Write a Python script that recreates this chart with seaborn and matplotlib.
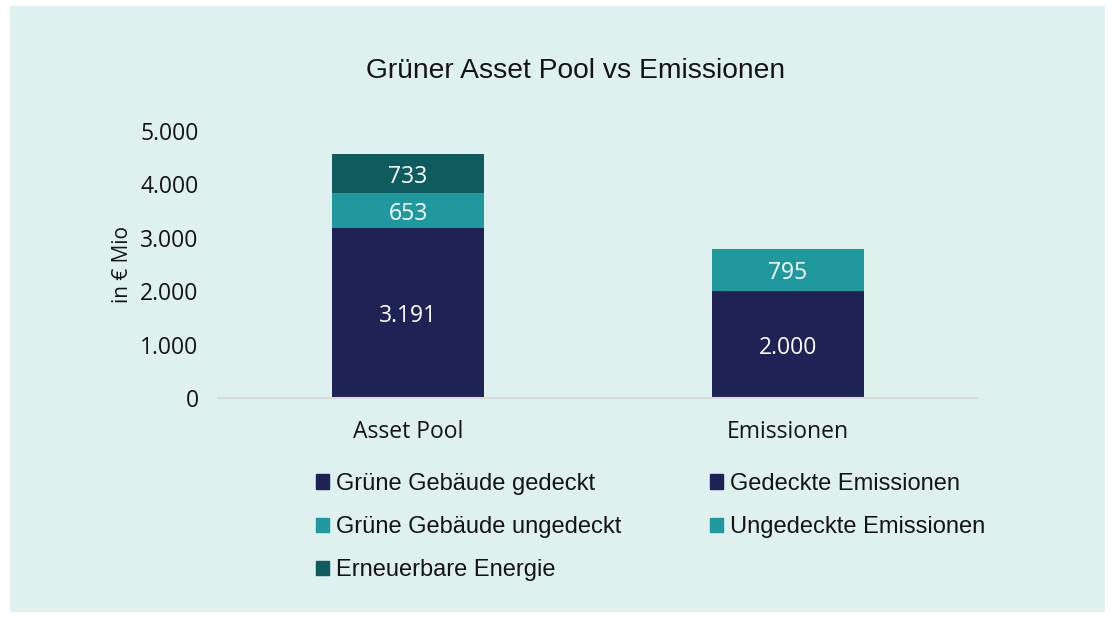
import matplotlib
matplotlib.use("Agg")
import matplotlib.pyplot as plt
import matplotlib.patches as mpatches
import seaborn as sns
import numpy as np

# data
categories = ["Asset Pool", "Emissionen"]
series_names = [
    "Grüne Gebäude gedeckt",
    "Grüne Gebäude ungedeckt",
    "Erneuerbare Energie",
    "Gedeckte Emissionen",
    "Ungedeckte Emissionen",
]
gruene_gedeckt = [3191, 0]
gruene_ungedeckt = [653, 0]
erneuerbare = [733, 0]
gedeckte_emissionen = [0, 2000]
ungedeckte_emissionen = [0, 795]
y_ticks = [0, 1000, 2000, 3000, 4000, 5000]

NAVY = "#1e2254"
TEAL = "#1f999e"
DARK_TEAL = "#0e5c5e"
BG = "#dff1ef"
INK = "#141414"
colors = [NAVY, TEAL, DARK_TEAL, NAVY, TEAL]
series_values = [gruene_gedeckt, gruene_ungedeckt, erneuerbare,
                 gedeckte_emissionen, ungedeckte_emissionen]
NUM_FONT = ["Open Sans", "DejaVu Sans"]


def de_fmt(v):
    return f"{int(v):,}".replace(",", ".")


sns.set_theme(style="white")
plt.rcParams["font.family"] = ["Liberation Sans", "DejaVu Sans"]
plt.rcParams["text.color"] = INK
plt.rcParams["axes.labelcolor"] = INK
plt.rcParams["xtick.color"] = INK
plt.rcParams["ytick.color"] = INK

fig = plt.figure(figsize=(11.15, 6.18), dpi=100)
fig.patch.set_facecolor("white")
fig.patches.append(mpatches.Rectangle(
    (10 / 1115, 6 / 618), 1095 / 1115, 606 / 618,
    transform=fig.transFigure, facecolor=BG, edgecolor="none", zorder=-10))

ax = fig.add_axes([218 / 1115, (618 - 398) / 618, 760 / 1115, 267 / 618])
ax.set_facecolor("none")

bottoms = np.zeros(len(categories))
for name, vals, col in zip(series_names, series_values, colors):
    sns.barplot(x=categories, y=vals, bottom=bottoms, color=col,
                width=0.4, ax=ax, saturation=1, linewidth=0)
    cont = ax.containers[-1]
    labels = [de_fmt(v) if v > 0 else "" for v in vals]
    texts = ax.bar_label(cont, labels=labels, label_type="center",
                         color="white", fontsize=16.5, family=NUM_FONT)
    for t in texts:
        t.set_y(-2.5)  # nudge a little lower, as in the reference
    bottoms = bottoms + np.array(vals)

ax.set_xlim(-0.5, 1.5)
ax.set_ylim(0, 5000)
ax.set_yticks(y_ticks)
ax.set_yticklabels([de_fmt(t) for t in y_ticks], fontsize=16.5, family=NUM_FONT)
ax.tick_params(axis="y", length=0, pad=14)
ax.tick_params(axis="x", length=0, pad=16, labelsize=16.5)
for lab in ax.get_xticklabels():
    lab.set_family(NUM_FONT)
ax.set_ylabel("in € Mio", fontsize=15, family=NUM_FONT, labelpad=5)
ax.set_xlabel("")
sns.despine(ax=ax, left=True)
ax.spines["bottom"].set_color("#d9d9d9")
ax.spines["bottom"].set_linewidth(1.5)

fig.text(576 / 1115, 1 - 71 / 618, "Grüner Asset Pool vs Emissionen",
         ha="center", va="center", fontsize=20.3)

handles = [mpatches.Patch(color=c) for c in colors]
fig.legend(handles, series_names, ncol=2, frameon=False,
           loc="upper left", bbox_to_anchor=(304 / 1115, 1 - 461 / 618),
           fontsize=17, handlelength=0.55, handleheight=0.55,
           handletextpad=0.3, labelspacing=0.9, columnspacing=3.75,
           borderpad=0)

fig.savefig("out.png", dpi=100, facecolor=fig.get_facecolor())
